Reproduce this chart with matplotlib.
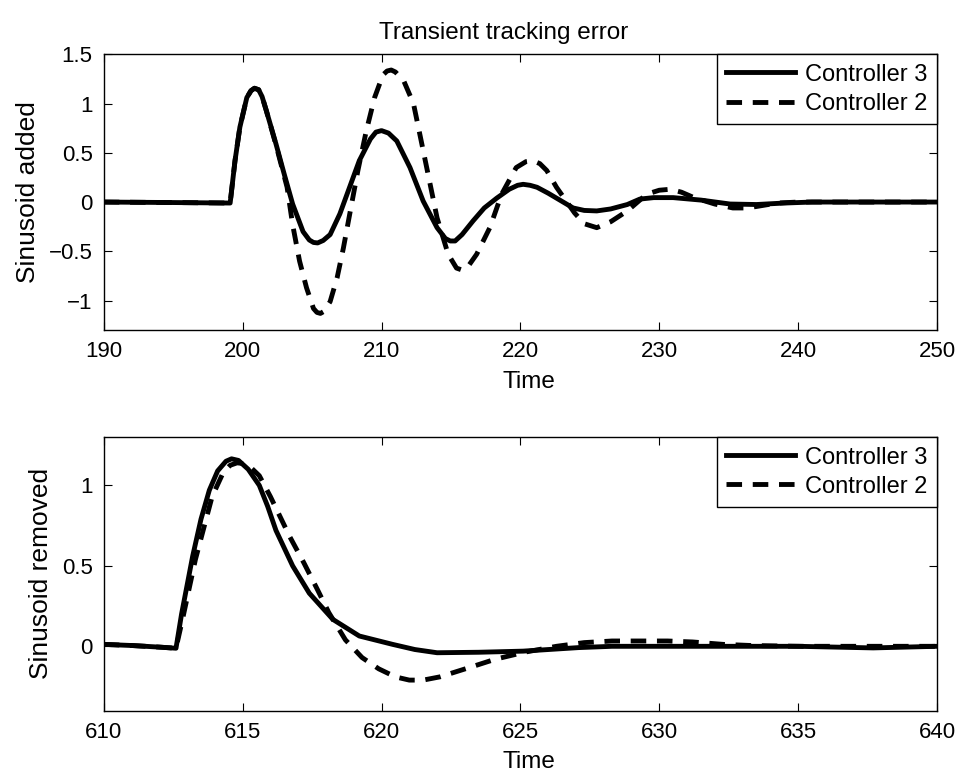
import numpy as np
from matplotlib import pyplot as plt
import matplotlib

matplotlib.rcParams.update({'font.size': 16})
plt.rcParams['font.family'] = ['Liberation Sans', 'DejaVu Sans']

# sinusoid added (top panel)
t_add_c3 = [190, 195, 199.1, 199.45, 199.8, 200.3, 200.6, 200.85, 201.15, 201.4,
            201.7, 202.4, 203.0, 203.6, 204.35, 204.8, 205.1, 205.4, 205.8,
            206.3, 207.0, 207.7, 208.4, 209.2, 209.6, 210.0, 210.5, 211.1,
            212.05, 213.0, 214.0, 214.6, 214.95, 215.3, 215.8, 216.6, 217.4,
            218.3, 219.2, 219.8, 220.2, 220.7, 221.2, 222.0, 222.6, 223.8,
            224.6, 225.5, 226.5, 227.7, 228.6, 229.6, 231.0, 233.0, 235.1,
            237.0, 239.0, 241.0, 245.0, 250.0]
e_add_c3 = [0.0, -0.005, -0.01, 0.42, 0.76, 1.06, 1.13, 1.155, 1.14, 1.07,
            0.93, 0.59, 0.28, -0.02, -0.30, -0.385, -0.41, -0.415, -0.39,
            -0.33, -0.12, 0.15, 0.42, 0.64, 0.71, 0.725, 0.70, 0.62,
            0.35, 0.01, -0.26, -0.37, -0.395, -0.395, -0.33, -0.19, -0.06,
            0.04, 0.13, 0.17, 0.18, 0.17, 0.15, 0.09, 0.04, -0.06,
            -0.085, -0.09, -0.07, -0.025, 0.03, 0.045, 0.045, 0.02, -0.02,
            -0.025, -0.01, 0.0, 0.0, 0.0]

t_add_c2 = [190, 195, 199.1, 199.45, 199.8, 200.3, 200.6, 200.85, 201.15, 201.4,
            201.7, 202.4, 203.2, 203.6, 204.1, 204.6, 205.1, 205.35, 205.6,
            205.85, 206.3, 206.8, 207.25, 207.7, 208.3, 208.9, 209.5, 210.1,
            210.4, 210.7, 211.0, 211.6, 212.3, 212.8, 213.4, 214.0, 214.8,
            215.4, 215.8, 216.2, 216.85, 217.8, 218.65, 219.7, 220.4, 220.9,
            221.4, 221.9, 222.6, 223.9, 224.6, 225.5, 226.5, 227.7, 229.1,
            230.0, 230.8, 231.6, 232.5, 234.0, 235.3, 236.3, 237.0, 238.5,
            240.0, 245.0, 250.0]
e_add_c2 = [0.0, -0.005, -0.01, 0.42, 0.76, 1.06, 1.13, 1.155, 1.14, 1.07,
            0.93, 0.58, 0.15, -0.23, -0.60, -0.87, -1.08, -1.12, -1.13,
            -1.11, -1.01, -0.77, -0.47, -0.13, 0.32, 0.72, 1.06, 1.29,
            1.33, 1.34, 1.32, 1.23, 1.0, 0.66, 0.25, -0.16, -0.53,
            -0.67, -0.69, -0.66, -0.53, -0.26, 0.08, 0.35, 0.41, 0.42,
            0.39, 0.32, 0.15, -0.11, -0.22, -0.26, -0.20, -0.09, 0.08,
            0.12, 0.13, 0.10, 0.045, -0.02, -0.06, -0.06, -0.045, -0.01,
            0.0, 0.0, 0.0]

# sinusoid removed (bottom panel)
t_rem_c3 = [610, 611, 612, 612.6, 612.8, 613.2, 613.5, 613.8, 614.1, 614.4,
            614.6, 614.85, 615.2, 615.6, 615.9, 616.2, 616.8, 617.4, 618.25,
            619.2, 620.4, 621.2, 622.0, 623.5, 625.1, 627.1, 628.3, 630.7,
            633.0, 635.0, 637.7, 640.0]
e_rem_c3 = [0.012, 0.005, -0.005, -0.012, 0.2, 0.56, 0.79, 0.97, 1.09, 1.15,
            1.165, 1.155, 1.10, 1.00, 0.87, 0.72, 0.50, 0.33, 0.167,
            0.064, 0.012, -0.02, -0.04, -0.037, -0.03, -0.008, 0.0, 0.0,
            0.0, 0.0, -0.01, 0.0]

t_rem_c2 = [610, 611, 612, 612.6, 612.85, 613.3, 613.9, 614.3, 614.55, 614.8,
            615.05, 615.3, 615.6, 616.0, 616.7, 617.2, 617.7, 618.1, 618.7,
            619.3, 619.9, 620.5, 621.0, 621.5, 622.1, 623.2, 624.1, 625.2,
            626.3, 627.3, 628.3, 630.3, 631.2, 632.3, 633.3, 635.0, 640.0]
e_rem_c2 = [0.012, 0.005, -0.005, -0.012, 0.18, 0.54, 0.93, 1.08, 1.125, 1.14,
            1.135, 1.11, 1.06, 0.93, 0.68, 0.52, 0.35, 0.21, 0.04,
            -0.07, -0.14, -0.19, -0.21, -0.21, -0.19, -0.13, -0.08, -0.035,
            0.0, 0.023, 0.033, 0.033, 0.027, 0.012, 0.005, 0.0, 0.0]

labels = ["Controller 3", "Controller 2"]


def style(ax):
    ax.tick_params(direction='in', top=True, right=True, length=6, width=0.8,
                   pad=8, labelsize=16)
    for s in ax.spines.values():
        s.set_linewidth(1.0)


def main():
    fig = plt.figure(figsize=(9.61, 7.75), dpi=100)
    ax1 = fig.add_axes([0.108, 0.574, 0.867, 0.356])
    ax2 = fig.add_axes([0.108, 0.083, 0.867, 0.353])

    ax1.plot(t_add_c3, e_add_c3, 'k-', lw=3.5, label=labels[0])
    ax1.plot(t_add_c2, e_add_c2, 'k', lw=3.5, dashes=(3.2, 2.2), label=labels[1])
    ax1.set_xlim(190, 250)
    ax1.set_ylim(-1.3, 1.5)
    ax1.set_yticks([-1, -0.5, 0, 0.5, 1, 1.5])
    ax1.set_yticklabels(['\u22121', '\u22120.5', '0', '0.5', '1', '1.5'])
    ax1.set_xlabel("Time", labelpad=6, fontsize=17.5, x=0.51)
    ax1.set_ylabel("Sinusoid added", fontsize=19, labelpad=6)
    ax1.set_title("Transient tracking error", pad=11, fontsize=17.5, x=0.48)
    style(ax1)

    ax2.plot(t_rem_c3, e_rem_c3, 'k-', lw=3.5, label=labels[0])
    ax2.plot(t_rem_c2, e_rem_c2, 'k', lw=3.5, dashes=(3.2, 2.2), label=labels[1])
    ax2.set_xlim(610, 640)
    ax2.set_ylim(-0.4, 1.3)
    ax2.set_yticks([0, 0.5, 1])
    ax2.set_yticklabels(['0', '0.5', '1'])
    ax2.set_xlabel("Time", labelpad=6, fontsize=17.5, x=0.51)
    ax2.set_ylabel("Sinusoid removed", fontsize=19, labelpad=6)
    style(ax2)

    for ax in [ax1, ax2]:
        leg = ax.legend(loc='upper right', borderaxespad=0, fancybox=False,
                        edgecolor='k', framealpha=1, handlelength=2.9,
                        handletextpad=0.45, labelspacing=0.3, borderpad=0.4,
                        fontsize=17)
        leg.get_frame().set_linewidth(1.0)

    fig.savefig("out.png", dpi=100)


if __name__ == "__main__":
    main()
